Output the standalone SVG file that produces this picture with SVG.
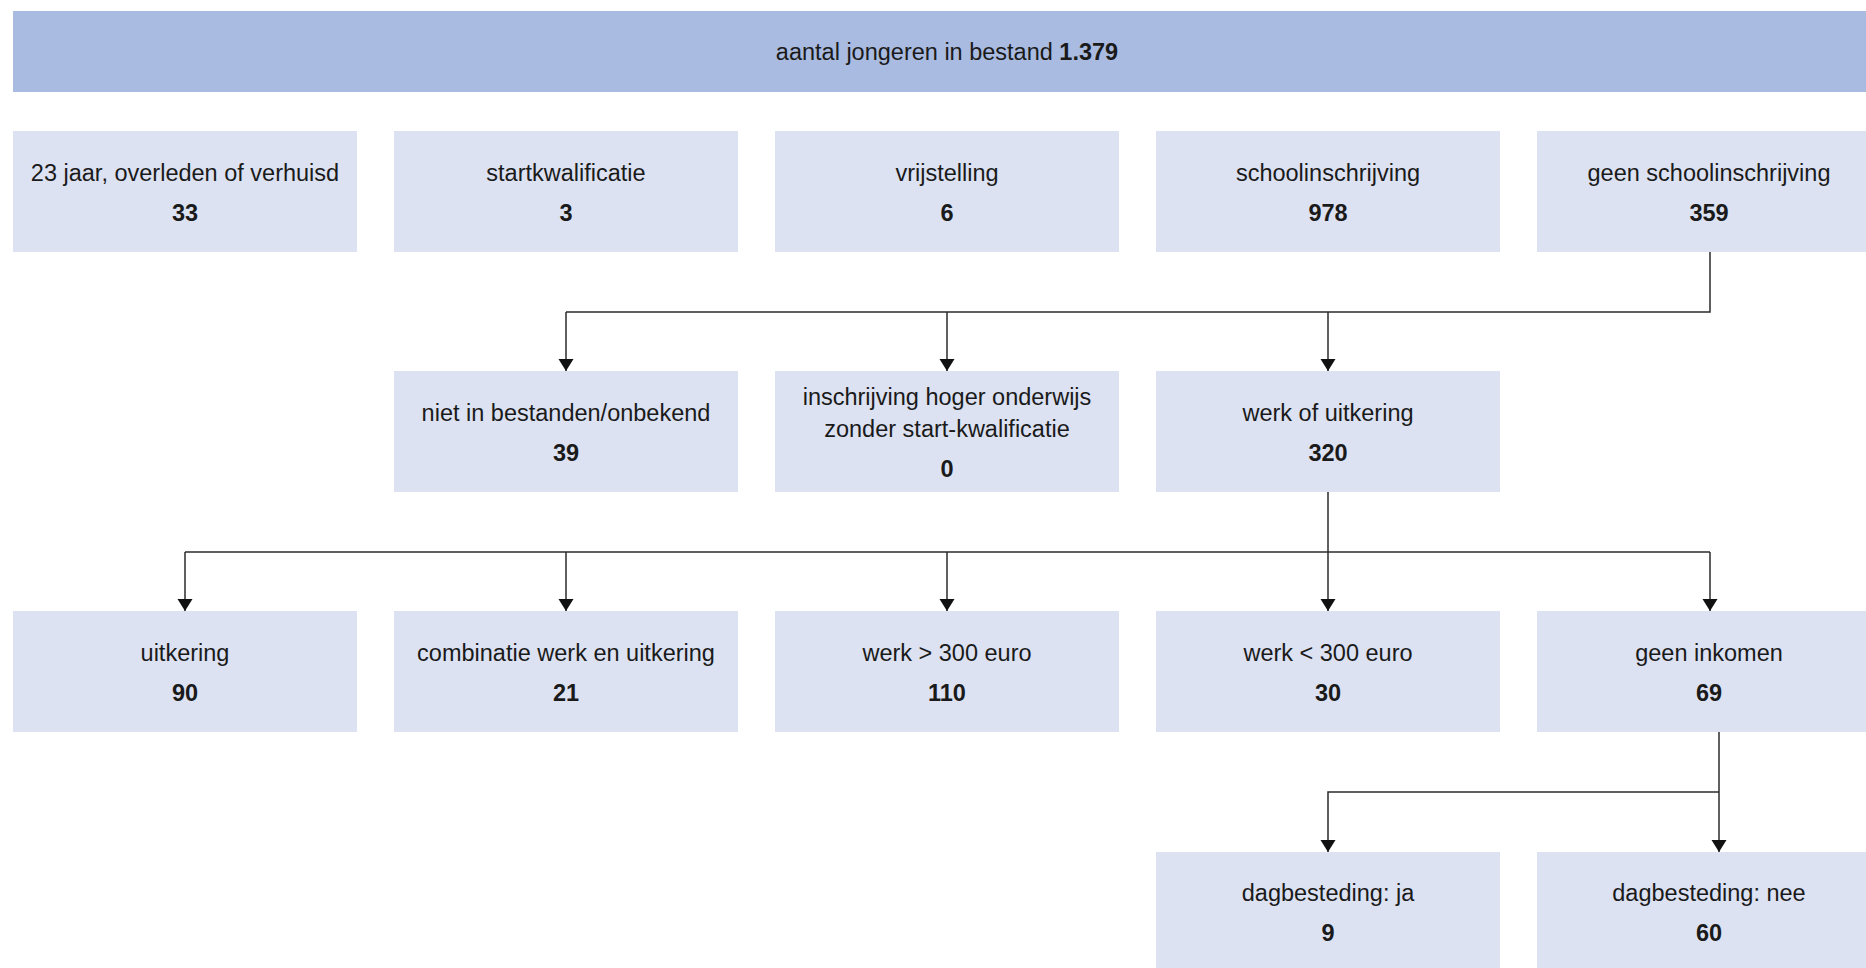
<svg xmlns="http://www.w3.org/2000/svg" width="1866" height="968" viewBox="0 0 1866 968">
<style>
.bar{fill:#A9BBE1}
.box{fill:#DCE2F2}
.t{font-family:"Liberation Sans",Arial,sans-serif;font-size:23.5px;fill:#1a1a1a;text-anchor:middle}
.n{font-weight:bold}
.c{fill:none;stroke:#2b2b2b;stroke-width:1.5}
</style>
<defs>
<marker id="ah" markerUnits="userSpaceOnUse" markerWidth="18" markerHeight="13" refX="9" refY="12" orient="0" viewBox="0 0 18 13">
<path d="M1.5,0 L16.5,0 L9,12 Z" fill="#111"/>
</marker>
</defs>
<g id="top"><rect class="bar" x="13" y="11" width="1868" height="81"/><text class="t" x="947" y="60">aantal jongeren in bestand <tspan class="n">1.379</tspan></text></g>
<g id="r1c1"><rect class="box" x="13" y="131" width="344" height="121"/><text class="t" x="185" y="181">23 jaar, overleden of verhuisd</text><text class="t n" x="185" y="221">33</text></g>
<g id="r1c2"><rect class="box" x="394" y="131" width="344" height="121"/><text class="t" x="566" y="181">startkwalificatie</text><text class="t n" x="566" y="221">3</text></g>
<g id="r1c3"><rect class="box" x="775" y="131" width="344" height="121"/><text class="t" x="947" y="181">vrijstelling</text><text class="t n" x="947" y="221">6</text></g>
<g id="r1c4"><rect class="box" x="1156" y="131" width="344" height="121"/><text class="t" x="1328" y="181">schoolinschrijving</text><text class="t n" x="1328" y="221">978</text></g>
<g id="r1c5"><rect class="box" x="1537" y="131" width="344" height="121"/><text class="t" x="1709" y="181">geen schoolinschrijving</text><text class="t n" x="1709" y="221">359</text></g>
<g id="r2c2"><rect class="box" x="394" y="371" width="344" height="121"/><text class="t" x="566" y="421">niet in bestanden/onbekend</text><text class="t n" x="566" y="461">39</text></g>
<g id="r2c3"><rect class="box" x="775" y="371" width="344" height="121"/><text class="t" x="947" y="405">inschrijving hoger onderwijs</text><text class="t" x="947" y="437">zonder start-kwalificatie</text><text class="t n" x="947" y="477">0</text></g>
<g id="r2c4"><rect class="box" x="1156" y="371" width="344" height="121"/><text class="t" x="1328" y="421">werk of uitkering</text><text class="t n" x="1328" y="461">320</text></g>
<g id="r3c1"><rect class="box" x="13" y="611" width="344" height="121"/><text class="t" x="185" y="661">uitkering</text><text class="t n" x="185" y="701">90</text></g>
<g id="r3c2"><rect class="box" x="394" y="611" width="344" height="121"/><text class="t" x="566" y="661">combinatie werk en uitkering</text><text class="t n" x="566" y="701">21</text></g>
<g id="r3c3"><rect class="box" x="775" y="611" width="344" height="121"/><text class="t" x="947" y="661">werk &gt; 300 euro</text><text class="t n" x="947" y="701">110</text></g>
<g id="r3c4"><rect class="box" x="1156" y="611" width="344" height="121"/><text class="t" x="1328" y="661">werk &lt; 300 euro</text><text class="t n" x="1328" y="701">30</text></g>
<g id="r3c5"><rect class="box" x="1537" y="611" width="344" height="121"/><text class="t" x="1709" y="661">geen inkomen</text><text class="t n" x="1709" y="701">69</text></g>
<g id="r4c4"><rect class="box" x="1156" y="852" width="344" height="121"/><text class="t" x="1328" y="901">dagbesteding: ja</text><text class="t n" x="1328" y="941">9</text></g>
<g id="r4c5"><rect class="box" x="1537" y="852" width="344" height="121"/><text class="t" x="1709" y="901">dagbesteding: nee</text><text class="t n" x="1709" y="941">60</text></g>
<g id="connectors">
<path class="c" d="M1710,252 V312 H566"/>
<path class="c" d="M566,312 V371" marker-end="url(#ah)"/>
<path class="c" d="M947,312 V371" marker-end="url(#ah)"/>
<path class="c" d="M1328,312 V371" marker-end="url(#ah)"/>
<path class="c" d="M185,552 H1710"/>
<path class="c" d="M1328,492 V611" marker-end="url(#ah)"/>
<path class="c" d="M185,552 V611" marker-end="url(#ah)"/>
<path class="c" d="M566,552 V611" marker-end="url(#ah)"/>
<path class="c" d="M947,552 V611" marker-end="url(#ah)"/>
<path class="c" d="M1710,552 V611" marker-end="url(#ah)"/>
<path class="c" d="M1719,732 V852" marker-end="url(#ah)"/>
<path class="c" d="M1719,792 H1328 V852" marker-end="url(#ah)"/>
</g>
</svg>
